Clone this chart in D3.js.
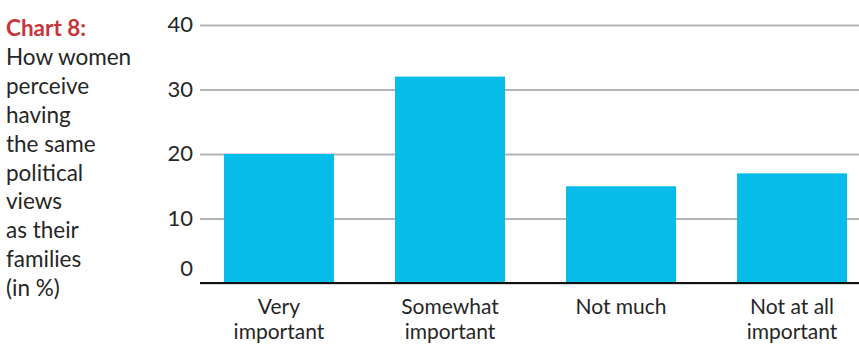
<!DOCTYPE html>
<html>
<head>
<meta charset="utf-8">
<script src="https://cdn.jsdelivr.net/npm/d3@7"></script>
<style>
  html, body { margin: 0; padding: 0; background: #fff; }
  svg text { font-family: Lato, "Open Sans", sans-serif; fill: #262626; }
</style>
</head>
<body>
<svg id="chart" width="859" height="344"></svg>
<script>
// data
let categories = [['Very', 'important'], ['Somewhat', 'important'], ['Not much'], ['Not at all', 'important']];
let values = [20, 32, 15, 17];
let yTicks = [0, 10, 20, 30, 40];
let titleLines = ['How women', 'perceive', 'having', 'the same', 'political', 'views', 'as their', 'families', '(in %)'];

let svg = d3.select('#chart');

let x = d3.scaleBand()
	.domain(d3.range(categories.length))
	.range([212, 859])
	.paddingInner(0.357)
	.paddingOuter(0.07);

let y = d3.scaleLinear()
	.domain([0, 40])
	.range([283, 25]);

// title on the left
let title = svg.append('text')
	.attr('x', 6)
	.attr('y', 36)
	.style('font-size', '22.5px');

title.append('tspan')
	.attr('x', 6)
	.style('fill', '#c8343a')
	.style('font-weight', 'bold')
	.text('Chart 8:');

titleLines.forEach(function(line) {
	title.append('tspan')
		.attr('x', 6)
		.attr('dy', 28.9)
		.text(line);
});

// grid + y labels
let yAxis = d3.axisLeft(y)
	.tickValues(yTicks)
	.tickSize(-(859 - 200))
	.tickPadding(7);

let gy = svg.append('g')
	.attr('transform', 'translate(200, 0)')
	.call(yAxis);

gy.select('.domain').remove();
gy.selectAll('.tick line')
	.attr('stroke', '#b4b4b4')
	.attr('stroke-width', 2);
gy.selectAll('.tick text')
	.style('font-size', '22px')
	.attr('dy', d => d === 0 ? '-0.35em' : '0.3em');

// bars
svg.append('g')
	.selectAll('rect')
	.data(values)
	.enter()
	.append('rect')
	.attr('x', (d, i) => x(i))
	.attr('y', d => y(d))
	.attr('width', x.bandwidth())
	.attr('height', d => y(0) - y(d))
	.attr('fill', '#06bdea');

// baseline
svg.append('line')
	.attr('x1', 200)
	.attr('x2', 859)
	.attr('y1', y(0))
	.attr('y2', y(0))
	.attr('stroke', '#111')
	.attr('stroke-width', 2);

// category labels
let labels = svg.append('g')
	.selectAll('text')
	.data(categories)
	.enter()
	.append('text')
	.attr('text-anchor', 'middle')
	.attr('y', 314)
	.style('font-size', '21px');

labels.each(function(lines, i) {
	let t = d3.select(this);
	lines.forEach(function(line, j) {
		t.append('tspan')
			.attr('x', x(i) + x.bandwidth() / 2)
			.attr('dy', j === 0 ? 0 : 25)
			.text(line);
	});
});
</script>
</body>
</html>
